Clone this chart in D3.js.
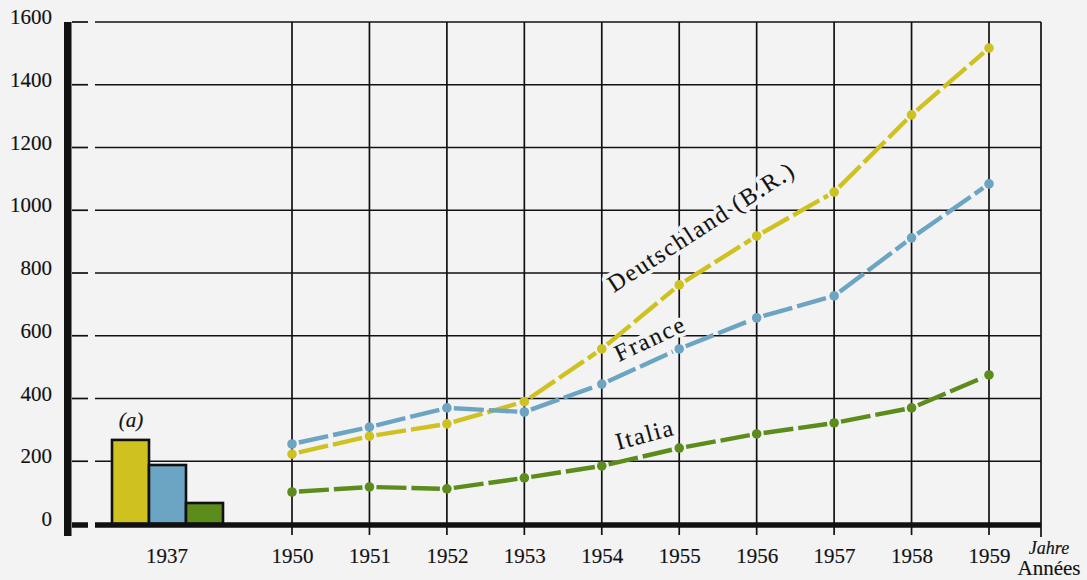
<!DOCTYPE html>
<html><head><meta charset="utf-8">
<script src="https://cdn.jsdelivr.net/npm/d3@7"></script>
<style>
html,body{margin:0;padding:0;background:#f3f3f3;}
svg{display:block;}
text{font-family:"Liberation Serif","Times New Roman",serif;fill:#111;}
</style></head>
<body><svg id="c" width="1087" height="580"></svg>
<script>
const years = [1950,1951,1952,1953,1954,1955,1956,1957,1958,1959];
const deutschland = [223,280,319,390,558,762,918,1058,1304,1517];
const france = [255,309,370,357,446,558,657,727,912,1084];
const italia = [102,118,112,147,185,242,287,322,370,475];
const series = ["Deutschland (B.R.)","France","Italia"];
const values1937 = [268,188,67];
const yTicks = [0,200,400,600,800,1000,1200,1400,1600];
const colors = ["#cfc120","#6ca4c3","#5b8c1c"];

const svg = d3.select("#c");
const bg = "#f3f3f3";
svg.append("rect").attr("width",1087).attr("height",580).attr("fill",bg);

const x = d3.scaleLinear().domain([1950,1959]).range([292,989]);
const y = d3.scaleLinear().domain([0,1600]).range([524,22]);
const xb = d3.scaleBand().domain(series).range([112,223]).padding(0);
const gapL = 88, gapR = 95, left = 72, right = 1041;
const ink = "#111";
function bold(sel, w){ return sel.attr("stroke",ink).attr("stroke-width",w||0.15); }

// horizontal grid
const g = svg.append("g");
yTicks.filter(d=>d>0).forEach(t=>{
  g.append("line").attr("x1",left).attr("x2",gapL).attr("y1",y(t)).attr("y2",y(t)).attr("stroke",ink).attr("stroke-width",1.7);
  g.append("line").attr("x1",gapR).attr("x2",right).attr("y1",y(t)).attr("y2",y(t)).attr("stroke",ink).attr("stroke-width",1.7);
});
// vertical grid
years.forEach(yr=>{
  g.append("line").attr("x1",x(yr)).attr("x2",x(yr)).attr("y1",y(1600)).attr("y2",535).attr("stroke",ink).attr("stroke-width",1.7);
});
g.append("line").attr("x1",right).attr("x2",right).attr("y1",y(1600)).attr("y2",537).attr("stroke",ink).attr("stroke-width",1.7);

// y axis labels
const yAxis = d3.axisLeft(y).tickValues(yTicks).tickSize(0).tickFormat(d3.format("d"));
const ya = svg.append("g").attr("transform","translate(55,-5)").call(yAxis);
ya.select(".domain").remove();
bold(ya.selectAll("text").attr("font-size",21).attr("font-family","Liberation Serif").attr("fill",ink));

// x axis labels
const xAxis = d3.axisBottom(x).tickValues(years).tickSize(0).tickFormat(d3.format("d"));
const xa = svg.append("g").attr("transform","translate(0,545)").call(xAxis);
xa.select(".domain").remove();
bold(xa.selectAll("text").attr("font-size",21).attr("font-family","Liberation Serif").attr("fill",ink));
bold(svg.append("text").attr("x",167).attr("y",563).attr("text-anchor","middle").attr("font-size",21).text("1937"));
bold(svg.append("text").attr("x",1049).attr("y",554).attr("text-anchor","middle").attr("font-size",18).attr("font-style","italic").text("Jahre"));
bold(svg.append("text").attr("x",1049).attr("y",575).attr("text-anchor","middle").attr("font-size",21).text("Années"));

// 1937 bars
svg.append("g").selectAll("rect").data(values1937).join("rect")
  .attr("x",(d,i)=>xb(series[i])).attr("width",xb.bandwidth())
  .attr("y",d=>y(d)).attr("height",d=>y(0)-y(d))
  .attr("fill",(d,i)=>colors[i]).attr("stroke",ink).attr("stroke-width",2.6);
bold(svg.append("text").attr("x",131).attr("y",427).attr("text-anchor","middle").attr("font-size",21).attr("font-style","italic").text("(a)"));

// series labels (with halo cutting gridlines)
const labels = [
  {t:"Deutschland (B.R.)", x:614, y:293, a:-33},
  {t:"France", x:619, y:362, a:-25},
  {t:"Italia", x:618, y:450, a:-15}
];
const lg = svg.append("g");
lg.selectAll("text.halo").data(labels).join("text").attr("class","halo")
  .attr("transform",d=>`translate(${d.x},${d.y}) rotate(${d.a})`)
  .attr("font-size",24).attr("letter-spacing",1.8)
  .attr("stroke",bg).attr("stroke-width",8).attr("stroke-linejoin","round").attr("fill",bg)
  .text(d=>d.t);
bold(lg.selectAll("text.lab").data(labels).join("text").attr("class","lab")
  .attr("transform",d=>`translate(${d.x},${d.y}) rotate(${d.a})`)
  .attr("font-size",24).attr("letter-spacing",1.8)
  .text(d=>d.t));

// baseline and y axis bar
svg.append("line").attr("x1",left).attr("x2",gapL).attr("y1",y(0)+1).attr("y2",y(0)+1).attr("stroke",ink).attr("stroke-width",5.5);
svg.append("line").attr("x1",gapR).attr("x2",right).attr("y1",y(0)+1).attr("y2",y(0)+1).attr("stroke",ink).attr("stroke-width",5.5);
svg.append("rect").attr("x",64).attr("y",22).attr("width",7.5).attr("height",514).attr("fill",ink);

// data lines
const data = [deutschland, france, italia];
data.forEach((vals,si)=>{
  const gg = svg.append("g");
  for(let i=0;i<vals.length-1;i++){
    const x1=x(years[i]), y1=y(vals[i]), x2=x(years[i+1]), y2=y(vals[i+1]);
    const L=Math.hypot(x2-x1,y2-y1), ux=(x2-x1)/L, uy=(y2-y1)/L, s=7;
    gg.append("line").attr("x1",x1+ux*s).attr("y1",y1+uy*s).attr("x2",x2-ux*s).attr("y2",y2-uy*s)
      .attr("stroke",colors[si]).attr("stroke-width",4.4).attr("stroke-dasharray","30,5");
  }
  gg.selectAll("circle").data(vals).join("circle")
    .attr("cx",(d,i)=>x(years[i])).attr("cy",d=>y(d)).attr("r",4.8).attr("fill",colors[si]);
});
</script></body></html>
